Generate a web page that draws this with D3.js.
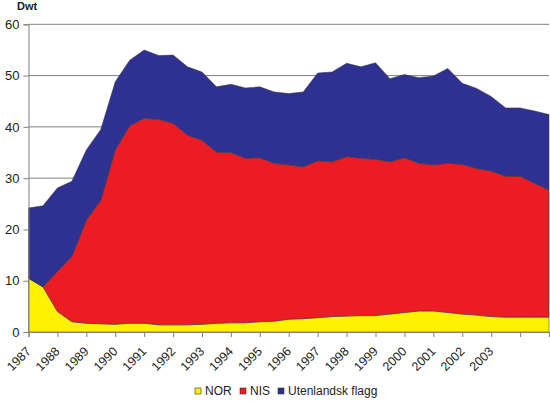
<!DOCTYPE html>
<html lang="en">
    <head>
       <meta charset="utf-8">
       <script src="https://d3js.org/d3.v7.min.js"></script>
       <style>
           body { margin: 0; background: #fff; }
           text { font-family: "Liberation Sans", Arial, sans-serif; }
       </style>
    </head>
    <body>

        <script>
            var width  = 550;
            var height = 403;

            // half-year points, 1987 to 2005
            var years = [1987, 1987.5, 1988, 1988.5, 1989, 1989.5, 1990, 1990.5, 1991, 1991.5,
                         1992, 1992.5, 1993, 1993.5, 1994, 1994.5, 1995, 1995.5, 1996, 1996.5,
                         1997, 1997.5, 1998, 1998.5, 1999, 1999.5, 2000, 2000.5, 2001, 2001.5,
                         2002, 2002.5, 2003, 2003.5, 2004, 2004.5, 2005];

            var nor = [10.5, 8.8, 4.0, 2.0, 1.7, 1.6, 1.5, 1.7, 1.7, 1.4,
                       1.4, 1.4, 1.5, 1.7, 1.8, 1.8, 2.0, 2.1, 2.5, 2.6,
                       2.8, 3.0, 3.1, 3.2, 3.2, 3.5, 3.8, 4.1, 4.1, 3.8,
                       3.5, 3.3, 3.0, 2.9, 2.9, 2.9, 2.9];

            var nis = [0, 0, 7.8, 12.7, 20.1, 24.1, 34.0, 38.5, 40.0, 40.1,
                       39.3, 37.0, 35.9, 33.4, 33.2, 32.1, 32.0, 30.8, 30.1, 29.6,
                       30.6, 30.2, 31.1, 30.7, 30.5, 29.7, 30.2, 28.8, 28.5, 29.1,
                       29.2, 28.6, 28.4, 27.5, 27.5, 26.1, 24.8];

            var utenlandsk = [13.7, 15.8, 16.3, 14.7, 13.7, 13.8, 13.3, 12.8, 13.3, 12.4,
                              13.3, 13.3, 13.3, 12.7, 13.3, 13.7, 13.8, 13.9, 13.9, 14.6,
                              17.1, 17.5, 18.2, 17.8, 18.8, 16.2, 16.2, 16.7, 17.3, 18.5,
                              15.8, 15.6, 14.5, 13.3, 13.3, 14.1, 14.7];

            var series_names = ['NOR', 'NIS', 'Utenlandsk flagg'];
            var series_colours = ['#FFF200', '#ED1C24', '#2E3192'];

            var x_ticks = d3.range(1987, 2006);           // tick marks every year
            var x_labels = d3.range(1987, 2004);          // labels stop at 2003
            var y_ticks = [0, 10, 20, 30, 40, 50, 60];

            var table = years.map(function(y, i) {
                return { year: y, NOR: nor[i], NIS: nis[i], 'Utenlandsk flagg': utenlandsk[i] };
            });

            var svg = d3.select("body")
                        .append("svg")
                        .attr("width", width)
                        .attr("height", height);

            var x = d3.scaleLinear().domain([1987, 2005]).range([28.5, 549]);
            var y = d3.scaleLinear().domain([0, 60]).range([332, 24.3]);

            // gridlines
            svg.append("g")
               .selectAll("line")
               .data(y_ticks.slice(1))
               .enter()
               .append("line")
               .attr("x1", x(1987))
               .attr("x2", x(2005))
               .attr("y1", function(d) { return y(d); })
               .attr("y2", function(d) { return y(d); })
               .attr("stroke", "#808080")
               .attr("stroke-width", 1);

            // stacked areas
            var stack = d3.stack().keys(series_names);
            var layers = stack(table);

            var area = d3.area()
                         .x(function(d) { return x(d.data.year); })
                         .y0(function(d) { return y(d[0]); })
                         .y1(function(d) { return y(d[1]); });

            svg.append("g")
               .selectAll("path")
               .data(layers)
               .enter()
               .append("path")
               .attr("d", area)
               .attr("fill", function(d, i) { return series_colours[i]; })
               .attr("stroke", "#333")
               .attr("stroke-width", 0.5);

            // y axis
            var yAxis = svg.append("g")
               .attr("transform", "translate(" + x(1987) + ",0)")
               .call(d3.axisLeft(y).tickValues(y_ticks).tickSize(5).tickPadding(4));
            yAxis.select(".domain").attr("stroke", "#808080");
            yAxis.selectAll(".tick line").attr("stroke", "#808080");
            yAxis.selectAll("text")
                 .attr("font-size", 13)
                 .attr("fill", "#222")
                 .attr("font-family", "Liberation Sans, Arial, sans-serif");

            // x axis
            var xAxis = svg.append("g")
               .attr("transform", "translate(0," + y(0) + ")")
               .call(d3.axisBottom(x).tickValues(x_ticks).tickSize(5).tickFormat(""));
            xAxis.select(".domain").attr("stroke", "#808080");
            xAxis.selectAll(".tick line").attr("stroke", "#808080");

            svg.append("g")
               .selectAll("text")
               .data(x_labels)
               .enter()
               .append("text")
               .attr("transform", function(d) { return "translate(" + x(d) + "," + (y(0) + 17) + ") rotate(-45)"; })
               .attr("text-anchor", "end")
               .attr("dy", "0.35em")
               .attr("font-size", 12.5)
               .attr("fill", "#222")
               .text(function(d) { return d; });

            // unit label
            svg.append("text")
               .attr("x", 17)
               .attr("y", 10)
               .attr("font-size", 11)
               .attr("font-weight", "bold")
               .attr("fill", "#222")
               .text("Dwt");

            // legend
            var legend_x = [195, 240, 278];
            var legend = svg.append("g")
                            .selectAll("g")
                            .data(series_names)
                            .enter()
                            .append("g")
                            .attr("transform", function(d, i) { return "translate(" + legend_x[i] + ",388)"; });

            legend.append("rect")
                  .attr("width", 6)
                  .attr("height", 6)
                  .attr("fill", function(d, i) { return series_colours[i]; })
                  .attr("stroke", "#333")
                  .attr("stroke-width", 0.6);

            legend.append("text")
                  .attr("x", 10)
                  .attr("y", 3)
                  .attr("dy", "0.35em")
                  .attr("font-size", 12)
                  .attr("fill", "#222")
                  .text(function(d) { return d; });
        </script>

    </body>
</html>
